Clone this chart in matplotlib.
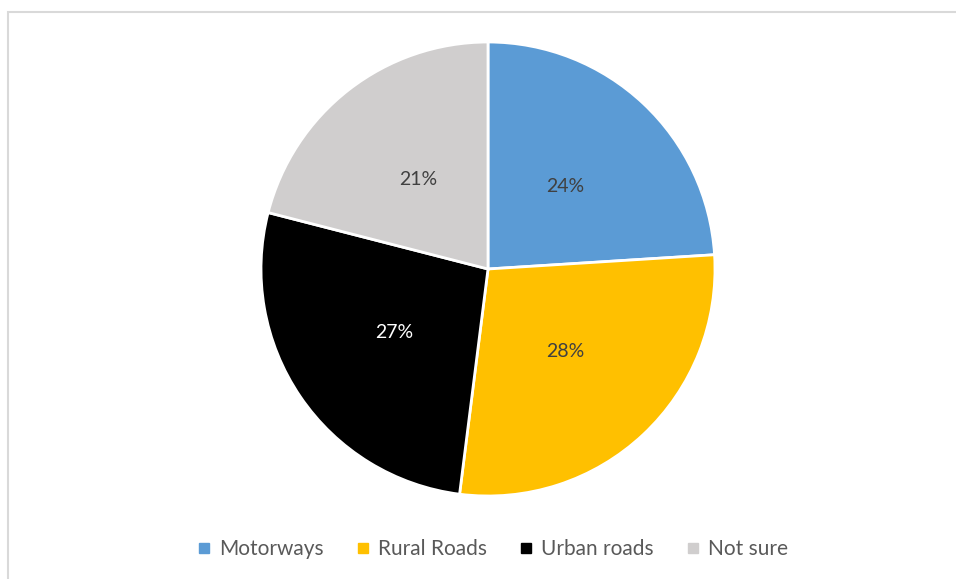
import matplotlib.pyplot as plt
from matplotlib.patches import Rectangle
from matplotlib.lines import Line2D

plt.rcParams['font.family'] = ['Lato', 'DejaVu Sans']

categories = ['Motorways', 'Rural Roads', 'Urban roads', 'Not sure']
shares = [24, 28, 27, 21]
colors = ['#5b9bd5', '#ffc000', '#000000', '#d0cece']
label_colors = ['#404040', '#404040', '#ffffff', '#404040']

W, H = 956, 579
fig = plt.figure(figsize=(W / 100, H / 100), dpi=100)

# chart frame (cut off at right and bottom)
fig.patches.append(Rectangle((7.5 / W, -0.1), 1.2, (H - 11.5) / H + 0.1,
                             transform=fig.transFigure, fill=False,
                             edgecolor='#d9d9d9', linewidth=1.5))

cx, cy, r = 488, 269, 227
ax = fig.add_axes([(cx - r) / W, (H - cy - r) / H, 2 * r / W, 2 * r / H])
wedges, texts, autotexts = ax.pie(shares, colors=colors, startangle=90, counterclock=False,
                                  autopct='%d%%', pctdistance=0.5,
                                  wedgeprops=dict(edgecolor='white', linewidth=2))
for t, c in zip(autotexts, label_colors):
    t.set_color(c)
    t.set_fontsize(14)
ax.set_xlim(-1, 1)
ax.set_ylim(-1, 1)
ax.set_aspect('equal')

handles = [Line2D([], [], marker='s', linestyle='none', markersize=7,
                  markerfacecolor=c, markeredgecolor=c) for c in colors]
fig.legend(handles, categories, loc='center', ncol=4, frameon=False,
           bbox_to_anchor=(492 / W, 1 - 549 / H), fontsize=15,
           labelcolor='#595959', handletextpad=0.3, columnspacing=1.5,
           handlelength=0.8)

fig.savefig('out.png', dpi=100)
